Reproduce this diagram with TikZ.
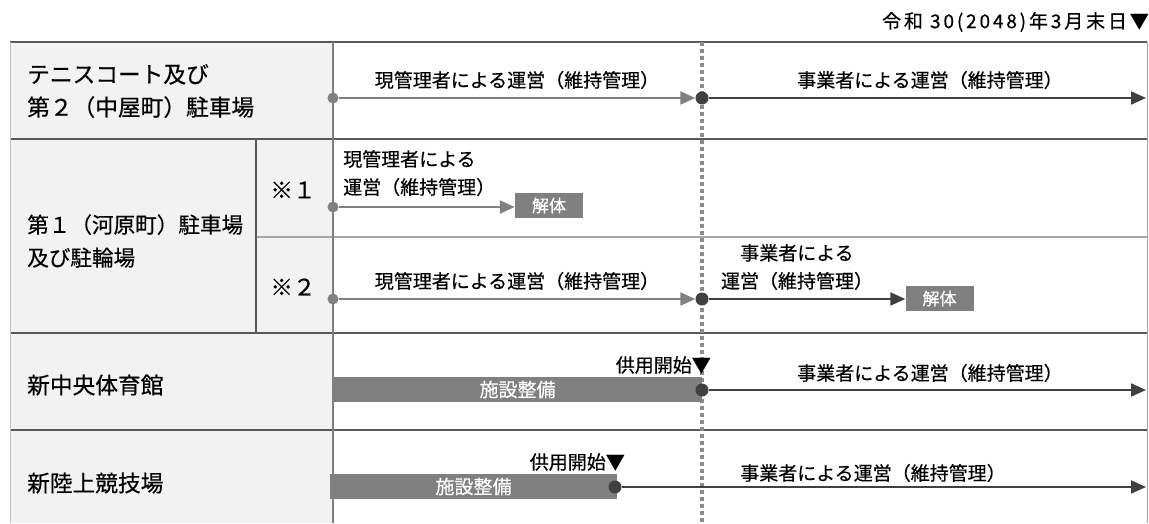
\documentclass[tikz,border=0pt]{standalone}
\usepackage{fontspec}
\setmainfont{Noto Sans CJK JP}[FakeBold=0.5]
\newfontfamily\hdrfont{Noto Sans CJK JP}[FakeBold=0.5, LetterSpace=15]
\usetikzlibrary{arrows.meta}
\definecolor{hdrfill}{HTML}{F2F2F2}
\definecolor{tline}{HTML}{595959}
\definecolor{lline}{HTML}{A6A6A6}
\definecolor{garr}{HTML}{808080}
\definecolor{darr}{HTML}{404040}
\definecolor{dotc}{HTML}{8C8C8C}
\tikzset{
  rowline/.style={draw=tline, line width=1.5pt},
  subline/.style={draw=lline, line width=1.5pt},
  colline/.style={draw=garr, line width=1.5pt},
  midline/.style={draw=dotc, line width=4pt, dash pattern=on 3.5pt off 3.5pt},
  gdot/.style={circle, fill=garr, inner sep=0pt, minimum size=11pt},
  ddot/.style={circle, fill=darr, inner sep=0pt, minimum size=13pt},
  garrow/.style={draw=garr, line width=2pt, -{Triangle[length=15pt,width=13pt]}},
  darrow/.style={draw=darr, line width=2pt, -{Triangle[length=15pt,width=13pt]}},
  lab/.style={inner sep=0pt, font=\fontsize{19}{28}\selectfont},
  rowlab/.style={inner sep=0pt, anchor=west, align=left, font=\fontsize{22.7}{33}\selectfont},
  endbox/.style={fill=garr, text=white, inner sep=0pt, minimum width=68pt, minimum height=25pt, font=\fontsize{17}{20}\selectfont},
  bar/.style={fill=garr, text=white, inner sep=0pt, minimum height=25pt, font=\fontsize{19}{22}\selectfont},
}
\begin{document}
\begin{tikzpicture}[x=1pt,y=-1pt]
\useasboundingbox (0,0) rectangle (1149,523);
% header column background
\fill[hdrfill] (10,42) rectangle (333,523);
% table lines
\draw[subline] (256,237) -- (1147,237);
\draw[rowline] (10,42) -- (1147,42);
\draw[rowline] (10,139) -- (1147,139);
\draw[rowline] (10,333) -- (1147,333);
\draw[rowline] (10,430) -- (1147,430);
\draw[colline] (333,42) -- (333,523);
\draw[rowline] (256,139) -- (256,333);
\draw[draw=lline, line width=1pt] (1147,42) -- (1147,523);
\draw[draw=hdrfill!80!black, line width=0.6pt] (10,42) -- (10,523);
% dotted time line
\draw[midline] (702,42) -- (702,523);
% header text
\node[inner sep=0pt, anchor=east, font=\hdrfont\fontsize{19}{24}\selectfont] (hd) at (1149,22) {令和 30(2048)年3月末日▼};
% row labels
\node[rowlab] (r1) at (27,91) {テニスコート及び\\第２（中屋町）駐車場};
\node[rowlab, font=\fontsize{21.6}{33}\selectfont] (r2) at (27,241) {第１（河原町）駐車場\\及び駐輪場};
\node[rowlab, anchor=center] (s1) at (293,190) {※１};
\node[rowlab, anchor=center] (s2) at (293,287) {※２};
\node[rowlab] (r3) at (27,385) {新中央体育館};
\node[rowlab] (r4) at (27,483) {新陸上競技場};
% row 1
\node[gdot] (a1) at (333,98) {};
\node[ddot] (b1) at (702,98) {};
\coordinate (e1) at (1146,98);
\draw[garrow] (a1) -- (b1);
\draw[darrow] (b1) -- (e1);
\node[lab] (t1) at (517,80) {現管理者による運営（維持管理）};
\node[lab] (t2) at (930,80) {事業者による運営（維持管理）};
% row 2 (1)
\node[gdot] (a2) at (333,207) {};
\node[endbox] (k1) at (549,205.5) {解体};
\draw[garrow] (a2) -- (a2 -| k1.west);
\node[lab, anchor=north west, align=left] (t3) at (343,150) {現管理者による\\運営（維持管理）};
% row 2 (2)
\node[gdot] (a3) at (333,299) {};
\node[ddot] (b3) at (702,299) {};
\node[endbox] (k2) at (939.5,298.5) {解体};
\draw[garrow] (a3) -- (b3);
\draw[darrow] (b3) -- (b3 -| k2.west);
\node[lab] (t4) at (517,281) {現管理者による運営（維持管理）};
\node[lab, align=center] (t5) at (797,267) {事業者による\\運営（維持管理）};
% row 3
\node[bar, minimum width=369pt] (bar1) at (517.5,389.5) {施設整備};
\node[ddot] (b4) at (702,390) {};
\coordinate (e4) at (1146,390);
\draw[darrow] (b4) -- (e4);
\node[lab] (t6) at (930,373) {事業者による運営（維持管理）};
\node[lab, anchor=east] (o1) at (711,365) {供用開始▼};
% row 4
\node[bar, minimum width=287pt] (bar2) at (473.5,486.5) {施設整備};
\node[ddot] (b5) at (615,487) {};
\coordinate (e5) at (1146,487);
\draw[darrow] (b5) -- (e5);
\node[lab] (t7) at (873,473) {事業者による運営（維持管理）};
\node[lab, anchor=east] (o2) at (625,462) {供用開始▼};
\end{tikzpicture}
\end{document}
